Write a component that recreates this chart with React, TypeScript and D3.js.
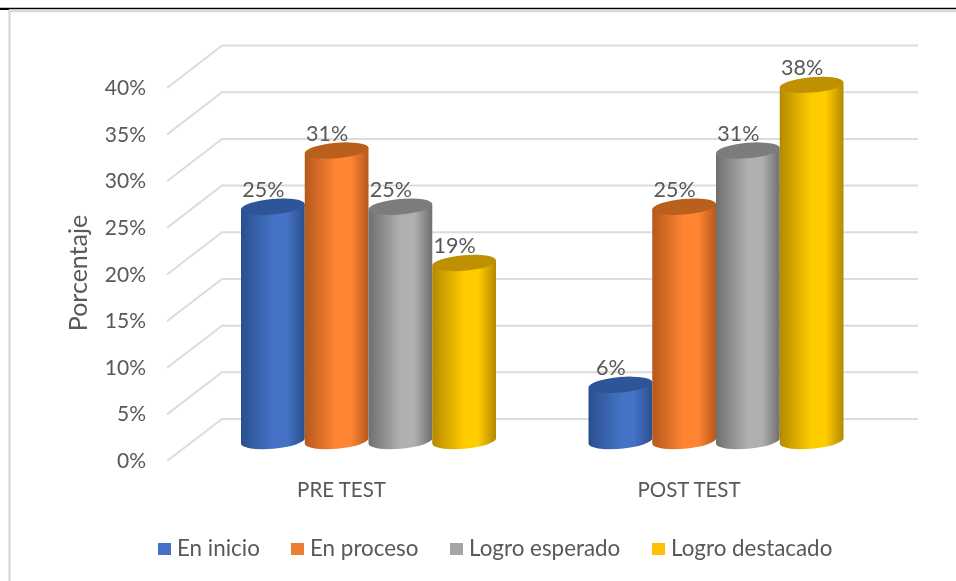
import React from "react";
import * as d3 from "d3";

const categories = ["PRE TEST", "POST TEST"];
const seriesNames = ["En inicio", "En proceso", "Logro esperado", "Logro destacado"];
const enInicio = [25, 6];
const enProceso = [31, 25];
const logroEsperado = [25, 31];
const logroDestacado = [19, 38];
const ticks = [0, 5, 10, 15, 20, 25, 30, 35, 40];

const allSeries = [enInicio, enProceso, logroEsperado, logroDestacado];
const palette = [
  { edge: "#2a4f8f", mid: "#4472c4", top: "#2f5597", key: "#4472c4" },
  { edge: "#b5591c", mid: "#ff8533", top: "#b9601f", key: "#ed7d31" },
  { edge: "#6f6f6f", mid: "#b0b0b0", top: "#7c7c7c", key: "#a5a5a5" },
  { edge: "#b58900", mid: "#ffcc00", top: "#bf9000", key: "#ffc000" },
];

const FONT = "Lato, 'Open Sans', sans-serif";
const TXT = "#595959";

const yBack = d3.scaleLinear().domain([0, 40]).range([419, 45.5]);
const yFront = d3.scaleLinear().domain([0, 40]).range([461, 88]);
const yBar = d3.scaleLinear().domain([0, 40]).range([441, 66.2]);
const xCat = d3.scalePoint().domain(categories).range([368.5, 716]);
const xSer = d3.scaleBand().domain(seriesNames).range([-127.5, 127.5]);

const rx = 32;
const ry = 7.7;
const tilt = -5;
const labelDepth = 27;

function Cylinder({ cx, yTop, yBase, idx }: { cx: number; yTop: number; yBase: number; idx: number }) {
  const dy = rx * Math.sin((tilt * Math.PI) / 180);
  const w = rx * Math.cos((tilt * Math.PI) / 180);
  const body = `M${cx - w},${yTop - dy} L${cx + w},${yTop + dy} L${cx + w},${yBase + dy} A${rx},${ry} ${tilt} 0 1 ${cx - w},${yBase - dy} Z`;
  return (
    <g>
      <path d={body} fill={`url(#cyl${idx})`} />
      <ellipse cx={cx} cy={yTop} rx={rx} ry={ry} transform={`rotate(${tilt} ${cx} ${yTop})`} fill={palette[idx].top} />
    </g>
  );
}

export default function App() {
  const bars = categories.flatMap((c, ci) =>
    seriesNames.map((s, si) => ({
      c,
      s,
      si,
      v: allSeries[si][ci],
      cx: (xCat(c) as number) + (xSer(s) as number) + xSer.bandwidth() / 2,
    }))
  );
  const legendX = [158, 291, 450, 652];
  return (
    <svg width={956} height={581} style={{ position: "absolute", left: 0, top: 0, background: "#fff" }}>
      <defs>
        {palette.map((p, i) => (
          <linearGradient key={i} id={`cyl${i}`} x1="0" x2="1" y1="0" y2="0">
            <stop offset="0" stopColor={p.edge} />
            <stop offset="0.5" stopColor={p.mid} />
            <stop offset="0.72" stopColor={p.mid} />
            <stop offset="1" stopColor={p.edge} />
          </linearGradient>
        ))}
        <filter id="soft" x="-5%" y="-5%" width="110%" height="110%">
          <feGaussianBlur stdDeviation="0.45" />
        </filter>
      </defs>
      <line x1={0} x2={956} y1={8.5} y2={8.5} stroke="#000" strokeWidth={1.4} />
      <line x1={0} x2={9} y1={9.5} y2={9.5} stroke="#000" strokeWidth={1} />
      <path d="M9.5,581 V11 H956" fill="none" stroke="#d9d9d9" strokeWidth={2.4} />
      <g filter="url(#soft)">
        {ticks.map((t) => (
          <g key={t}>
            <path
              d={`M167,${yFront(t)} L222,${yBack(t)} H918`}
              fill="none"
              stroke="#dcdcdc"
              strokeWidth={2}
            />
            <text x={146} y={yFront(t) + 7} textAnchor="end" fontFamily={FONT} fontSize={21} fill={TXT}>
              {t}%
            </text>
          </g>
        ))}
        <text
          transform="translate(87,273) rotate(-90)"
          textAnchor="middle"
          fontFamily={FONT}
          fontSize={25}
          fill={TXT}
        >
          Porcentaje
        </text>
        {bars.map((b) => (
          <Cylinder key={b.c + b.s} cx={b.cx} yTop={yBar(b.v)} yBase={yBar(0)} idx={b.si} />
        ))}
        {bars.map((b) => (
          <text
            key={b.c + b.s}
            x={b.cx - 9.5}
            y={yBar(b.v) - 10}
            textAnchor="middle"
            fontFamily={FONT}
            fontSize={21.5}
            fill={TXT}
          >
            {b.v}%
          </text>
        ))}
        {categories.map((c) => (
          <text
            key={c}
            x={(xCat(c) as number) - labelDepth}
            y={497}
            textAnchor="middle"
            fontFamily={FONT}
            fontSize={20.5}
            fill={TXT}
          >
            {c}
          </text>
        ))}
        {seriesNames.map((s, i) => (
          <g key={s}>
            <rect x={legendX[i]} y={543} width={13} height={12} fill={palette[i].key} />
            <text x={legendX[i] + 19} y={556} fontFamily={FONT} fontSize={22.4} fill={TXT}>
              {s}
            </text>
          </g>
        ))}
      </g>
    </svg>
  );
}
